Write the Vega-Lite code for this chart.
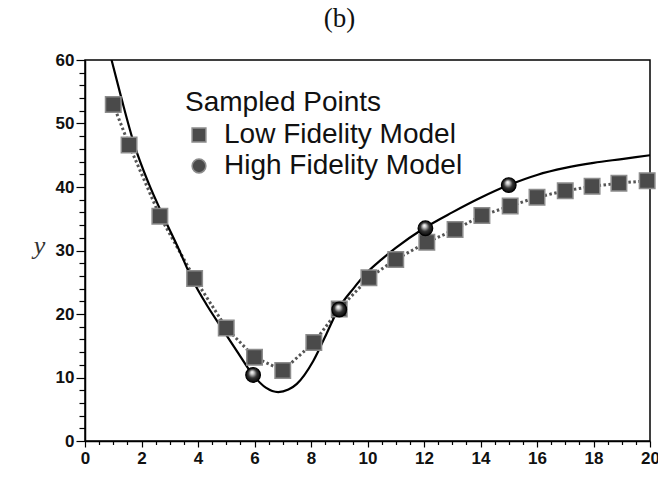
{
  "$schema": "https://vega.github.io/schema/vega-lite/v6.json",
  "width": 565,
  "height": 381,
  "autosize": {"type": "none"},
  "padding": {"left": 85, "top": 60, "right": 8, "bottom": 37},
  "background": "white",
  "title": {
    "text": "(b)",
    "font": "Liberation Serif",
    "fontSize": 27,
    "fontWeight": "normal",
    "color": "#111111",
    "anchor": "middle",
    "dx": -28,
    "offset": 18
  },
  "datasets": {
    "curve": [
      {"x": 0.94, "y": 60.0},
      {"x": 1.3, "y": 53.8},
      {"x": 1.75, "y": 46.6},
      {"x": 2.25, "y": 40.6},
      {"x": 2.77, "y": 35.4},
      {"x": 3.3, "y": 30.4},
      {"x": 3.78, "y": 25.6},
      {"x": 4.3, "y": 21.5},
      {"x": 4.84, "y": 17.8},
      {"x": 5.4, "y": 14.0},
      {"x": 5.93, "y": 10.5},
      {"x": 6.4, "y": 8.4},
      {"x": 6.84, "y": 7.7},
      {"x": 7.2, "y": 8.1},
      {"x": 7.5, "y": 9.0},
      {"x": 8.08, "y": 12.6},
      {"x": 8.55, "y": 16.9},
      {"x": 8.97, "y": 20.8},
      {"x": 9.5, "y": 24.0},
      {"x": 10.0, "y": 26.6},
      {"x": 10.5, "y": 28.6},
      {"x": 11.0, "y": 30.4},
      {"x": 12.0, "y": 33.5},
      {"x": 13.0, "y": 36.0},
      {"x": 14.0, "y": 38.3},
      {"x": 15.0, "y": 40.3},
      {"x": 16.0, "y": 41.9},
      {"x": 17.0, "y": 43.0},
      {"x": 18.0, "y": 43.8},
      {"x": 19.0, "y": 44.4},
      {"x": 20.0, "y": 45.0}
    ],
    "lowfi": [
      {"x": 1.0, "y": 53.0, "model": "Low Fidelity Model"},
      {"x": 1.56, "y": 46.6, "model": "Low Fidelity Model"},
      {"x": 2.65, "y": 35.4, "model": "Low Fidelity Model"},
      {"x": 3.88, "y": 25.6, "model": "Low Fidelity Model"},
      {"x": 5.0, "y": 17.8, "model": "Low Fidelity Model"},
      {"x": 6.0, "y": 13.2, "model": "Low Fidelity Model"},
      {"x": 7.0, "y": 11.1, "model": "Low Fidelity Model"},
      {"x": 8.1, "y": 15.5, "model": "Low Fidelity Model"},
      {"x": 9.0, "y": 20.8, "model": "Low Fidelity Model"},
      {"x": 10.05, "y": 25.7, "model": "Low Fidelity Model"},
      {"x": 11.0, "y": 28.6, "model": "Low Fidelity Model"},
      {"x": 12.1, "y": 31.3, "model": "Low Fidelity Model"},
      {"x": 13.1, "y": 33.3, "model": "Low Fidelity Model"},
      {"x": 14.05, "y": 35.5, "model": "Low Fidelity Model"},
      {"x": 15.05, "y": 37.0, "model": "Low Fidelity Model"},
      {"x": 16.0, "y": 38.4, "model": "Low Fidelity Model"},
      {"x": 17.0, "y": 39.4, "model": "Low Fidelity Model"},
      {"x": 17.95, "y": 40.1, "model": "Low Fidelity Model"},
      {"x": 18.9, "y": 40.6, "model": "Low Fidelity Model"},
      {"x": 19.9, "y": 41.0, "model": "Low Fidelity Model"}
    ],
    "hifi": [
      {"x": 5.95, "y": 10.4, "model": "High Fidelity Model"},
      {"x": 9.0, "y": 20.7, "model": "High Fidelity Model"},
      {"x": 12.05, "y": 33.5, "model": "High Fidelity Model"},
      {"x": 15.0, "y": 40.3, "model": "High Fidelity Model"}
    ]
  },
  "layer": [
    {
      "data": {"name": "lowfi"},
      "mark": {"type": "line", "color": "#555555", "strokeWidth": 3, "strokeDash": [2.5, 2.5], "clip": true},
      "encoding": {
        "x": {
          "field": "x",
          "type": "quantitative",
          "scale": {"domain": [0, 20], "nice": false, "zero": false},
          "axis": {
            "orient": "bottom",
            "title": null,
            "values": [0.5, 1, 1.5, 2.5, 3, 3.5, 4.5, 5, 5.5, 6.5, 7, 7.5, 8.5, 9, 9.5, 10.5, 11, 11.5, 12.5, 13, 13.5, 14.5, 15, 15.5, 16.5, 17, 17.5, 18.5, 19, 19.5],
            "labels": false,
            "domain": false,
            "tickSize": 3.5,
            "grid": false
          }
        },
        "y": {
          "field": "y",
          "type": "quantitative",
          "scale": {"domain": [0, 60], "nice": false},
          "axis": {
            "orient": "left",
            "title": null,
            "values": [2, 4, 6, 8, 12, 14, 16, 18, 22, 24, 26, 28, 32, 34, 36, 38, 42, 44, 46, 48, 52, 54, 56, 58],
            "labels": false,
            "domain": false,
            "tickSize": 6,
            "grid": false
          }
        }
      }
    },
    {
      "data": {"name": "curve"},
      "mark": {"type": "line", "color": "#000000", "strokeWidth": 2.2, "interpolate": "monotone", "clip": true},
      "encoding": {
        "x": {
          "field": "x",
          "type": "quantitative",
          "axis": {
            "orient": "bottom",
            "title": null,
            "values": [0, 2, 4, 6, 8, 10, 12, 14, 16, 18, 20],
            "tickSize": 6,
            "labelPadding": 3,
            "labelFlush": false,
            "labelOverlap": false,
            "grid": false
          }
        },
        "y": {
          "field": "y",
          "type": "quantitative",
          "axis": {
            "orient": "left",
            "title": "y",
            "titleFont": "Liberation Serif",
            "titleFontStyle": "italic",
            "titleFontWeight": "normal",
            "titleFontSize": 26,
            "titleColor": "#333333",
            "titleAngle": 0,
            "titleAlign": "center",
            "titleBaseline": "middle",
            "titleX": -46,
            "titleY": 185,
            "values": [0, 10, 20, 30, 40, 50, 60],
            "tickSize": 9,
            "labelPadding": 2,
            "labelFlush": false,
            "labelOverlap": false,
            "grid": false
          }
        }
      }
    },
    {
      "data": {"name": "lowfi"},
      "mark": {"type": "point", "filled": true, "fill": "#4a4a4a", "stroke": "#8c8c8c", "strokeWidth": 1.5, "size": 240, "opacity": 1},
      "encoding": {
        "x": {"field": "x", "type": "quantitative", "axis": null},
        "y": {"field": "y", "type": "quantitative", "axis": null},
        "shape": {
          "field": "model",
          "type": "nominal",
          "scale": {"domain": ["Low Fidelity Model", "High Fidelity Model"], "range": ["square", "circle"]},
          "legend": {
            "title": "Sampled Points",
            "orient": "none",
            "legendX": 100,
            "legendY": 29,
            "padding": 0,
            "titleFont": "Liberation Sans",
            "titleFontSize": 28,
            "titleFontWeight": "normal",
            "titleColor": "#111111",
            "titlePadding": 4,
            "titleLimit": 500,
            "labelFont": "Liberation Sans",
            "labelFontSize": 28,
            "labelColor": "#111111",
            "labelOffset": 11,
            "labelLimit": 500,
            "symbolSize": 190,
            "rowPadding": 3,
            "encode": {
              "symbols": {
                "update": {
                  "fill": [
                    {
                      "test": "datum.value === 'High Fidelity Model'",
                      "value": {
                        "gradient": "radial",
                        "x1": 0.42, "y1": 0.3, "r1": 0,
                        "x2": 0.5, "y2": 0.5, "r2": 0.55,
                        "stops": [
                          {"offset": 0, "color": "#ffffff"},
                          {"offset": 0.2, "color": "#c8c8c8"},
                          {"offset": 0.5, "color": "#222222"},
                          {"offset": 1, "color": "#000000"}
                        ]
                      }
                    },
                    {"value": "#4a4a4a"}
                  ],
                  "stroke": [
                    {"test": "datum.value === 'High Fidelity Model'", "value": "#000000"},
                    {"value": "#8c8c8c"}
                  ],
                  "strokeWidth": {"value": 1.2},
                  "opacity": {"value": 1}
                }
              }
            }
          }
        }
      }
    },
    {
      "data": {"name": "hifi"},
      "mark": {
        "type": "point",
        "filled": true,
        "fill": {
          "gradient": "radial",
          "x1": 0.42, "y1": 0.3, "r1": 0,
          "x2": 0.5, "y2": 0.5, "r2": 0.55,
          "stops": [
            {"offset": 0, "color": "#ffffff"},
            {"offset": 0.2, "color": "#d0d0d0"},
            {"offset": 0.55, "color": "#333333"},
            {"offset": 1, "color": "#000000"}
          ]
        },
        "stroke": "#000000",
        "strokeWidth": 1.2,
        "size": 215,
        "opacity": 1
      },
      "encoding": {
        "x": {"field": "x", "type": "quantitative", "axis": null},
        "y": {"field": "y", "type": "quantitative", "axis": null},
        "shape": {"field": "model", "type": "nominal"}
      }
    }
  ],
  "resolve": {"axis": {"x": "independent", "y": "independent"}},
  "config": {
    "view": {"stroke": "#000000", "strokeWidth": 1.5},
    "axis": {
      "domainColor": "#000000",
      "domainWidth": 1.5,
      "tickColor": "#000000",
      "tickWidth": 1.2,
      "labelFont": "Liberation Sans",
      "labelFontWeight": "bold",
      "labelFontSize": 17,
      "labelColor": "#111111"
    }
  }
}
